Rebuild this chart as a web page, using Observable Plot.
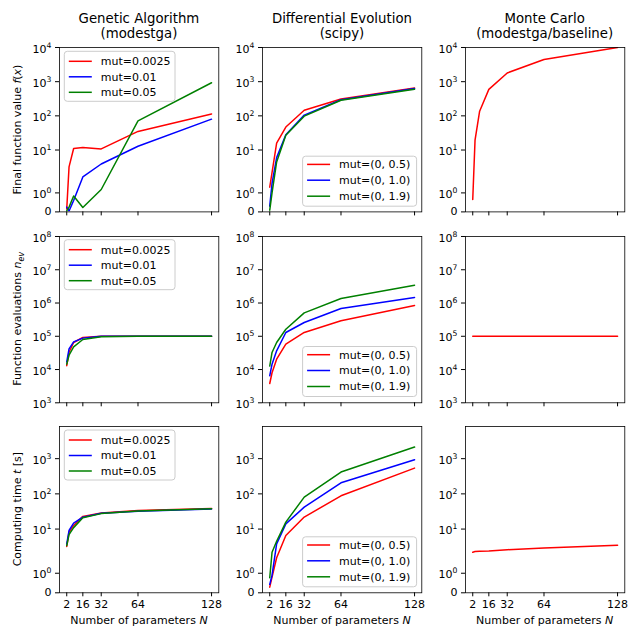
<!DOCTYPE html>
<html>
<head>
<meta charset="utf-8">
<script src="https://cdn.jsdelivr.net/npm/d3@7"></script>
<script src="https://cdn.jsdelivr.net/npm/@observablehq/plot@0.6"></script>
<style>
  body { margin: 0; background: #fff; }
  #fig { position: relative; width: 640px; height: 640px; font-family: "DejaVu Sans", sans-serif; }
  #fig > svg { position: absolute; overflow: visible; }
</style>
</head>
<body>
<div id="fig"></div>
<script>
// Problem sizes (number of parameters N)
const N = [2, 4, 8, 16, 32, 64, 128];
const xTicks = [2, 16, 32, 64, 128];

const colors = ["#ff0000", "#0000ff", "#008000"];
const gaLabels = ["mut=0.0025", "mut=0.01", "mut=0.05"];
const deLabels = ["mut=(0, 0.5)", "mut=(0, 1.0)", "mut=(0, 1.9)"];

const colTitles = [
  ["Genetic Algorithm", "(modestga)"],
  ["Differential Evolution", "(scipy)"],
  ["Monte Carlo", "(modestga/baseline)"]
];

// Final function value f(x)
const gaFx = [
  [0.15, 3.2, 11.1, 11.9, 10.8, 35, 113],
  [0.25, 0.05, 0.6, 1.84, 3.9, 12.9, 80],
  [0.05, 0.25, 0.84, 0.23, 1.18, 71, 930]
];
const deFx = [
  [1.3, 2.2, 16, 47, 146, 313, 650],
  [0.3, 1.5, 6.0, 28, 105, 295, 630],
  [0.09, 1.0, 4.5, 27, 98, 285, 600]
];
const mcFx = [[0.65, 19.5, 137, 594, 1800, 4470, 10000]];

// Function evaluations n_ev
const gaNev = [
  [13000, 33000, 65000, 92000, 100000, 100000, 100000],
  [17000, 42000, 68000, 88000, 100000, 100000, 100000],
  [14500, 27000, 48000, 80000, 97000, 100000, 100000]
];
const deNev = [
  [3800, 8000, 20500, 58000, 130000, 292000, 843000],
  [6500, 14500, 36600, 130000, 260000, 686000, 1470000],
  [12700, 32600, 65000, 163000, 507000, 1370000, 3440000]
];
const mcNev = [[100000, 100000, 100000, 100000, 100000, 100000, 100000]];

// Computing time t [s]
const gaTime = [
  [3.2, 8.2, 12.7, 22.9, 28.5, 33.9, 38.6],
  [3.8, 9.1, 14.8, 21.8, 28, 32, 37],
  [3.4, 7.0, 11, 20.9, 27.5, 32.5, 38]
];
const deTime = [
  [0.29, 0.8, 1.79, 6.6, 21.9, 88, 538],
  [0.43, 0.9, 3.8, 14.1, 42, 206, 934],
  [0.77, 2.2, 4.5, 15.7, 81, 417, 2140]
];
const mcTime = [[2.2, 2.3, 2.35, 2.4, 2.6, 2.9, 3.5]];

// y limits and ticks of each row (shared along the row)
const rowDomains = [[0, 1e4], [1e3, 1e8], [0, 8200]];
const rowTicks = [
  [0, 1, 10, 100, 1e3, 1e4],
  [1e3, 1e4, 1e5, 1e6, 1e7, 1e8],
  [0, 1, 10, 100, 1e3]
];

// Symmetric log transform (linear within ±2, log10 outside)
const LINTHRESH = 2, LINSCALE = 1 / (1 - 1 / 10);
function symlog(v) {
  const a = Math.abs(v);
  return a <= LINTHRESH ? v * LINSCALE
    : Math.sign(v) * LINTHRESH * (LINSCALE + Math.log10(a / LINTHRESH));
}
const SUP = {"0": "⁰", "1": "¹", "2": "²", "3": "³", "4": "⁴", "5": "⁵", "6": "⁶", "7": "⁷", "8": "⁸", "9": "⁹"};
const UNSUP = Object.fromEntries(Object.entries(SUP).map(([k, v]) => [v, k]));
function powerLabel(v) {
  if (v === 0) return "0";
  const e = String(Math.round(Math.log10(v)));
  return "10" + [...e].map(c => SUP[c]).join("");
}

// Layout of the 3x3 grid of axes (pixels)
const colLeft = [59.3, 262.3, 465], colWidth = 159.3;
const rowTop = [47.3, 235.7, 426], rowBottom = [211.7, 402, 592.3];
const ML = 50, MR = 10, MT = 8, MB = 30;
const FONT = "DejaVu Sans";

const panels = [
  [{series: gaFx, legend: gaLabels, loc: "ul"}, {series: deFx, legend: deLabels, loc: "lr"}, {series: mcFx}],
  [{series: gaNev, legend: gaLabels, loc: "ul"}, {series: deNev, legend: deLabels, loc: "lr"}, {series: mcNev}],
  [{series: gaTime, legend: gaLabels, loc: "ul"}, {series: deTime, legend: deLabels, loc: "lr"}, {series: mcTime}]
];

const fig = document.getElementById("fig");

// Typeset "10ⁿ" tick labels as a base with a raised, smaller exponent
function typesetPowers(svg) {
  svg.querySelectorAll('g[aria-label="y-axis tick label"] text').forEach(t => {
    const s = t.textContent;
    if (!s.startsWith("10")) return;
    const exp = [...s.slice(2)].map(c => UNSUP[c] ?? c).join("");
    t.textContent = "";
    const ns = "http://www.w3.org/2000/svg";
    const base = document.createElementNS(ns, "tspan");
    base.setAttribute("dy", "1.5");
    base.textContent = "10";
    const sup = document.createElementNS(ns, "tspan");
    sup.setAttribute("dy", "-5");
    sup.setAttribute("font-size", "7.7");
    sup.textContent = exp;
    t.appendChild(base);
    t.appendChild(sup);
  });
}

panels.forEach((row, r) => {
  const labelOf = new Map(rowTicks[r].map(t => [symlog(t), powerLabel(t)]));
  const h = rowBottom[r] - rowTop[r];
  row.forEach((p, c) => {
    const svg = Plot.plot({
      width: colWidth + ML + MR,
      height: h + MT + MB,
      marginLeft: ML, marginRight: MR, marginTop: MT, marginBottom: MB,
      style: {fontFamily: FONT, fontSize: "11px", color: "#000", background: "none", overflow: "visible"},
      x: {
        type: "linear", domain: [-4.3, 134.3], ticks: xTicks, tickSize: 4, tickPadding: 3,
        tickFormat: r === 2 ? d => String(d) : () => "", label: null
      },
      y: {
        type: "linear", domain: rowDomains[r].map(symlog), ticks: rowTicks[r].map(symlog),
        tickSize: 4, tickPadding: 4, tickFormat: t => labelOf.get(t), label: null
      },
      marks: [
        ...p.series.map((vals, i) => Plot.line(vals, {
          x: (d, j) => N[j], y: d => symlog(d),
          stroke: colors[i], strokeWidth: 1.5, clip: true
        })),
        Plot.frame({stroke: "#000", strokeWidth: 0.8})
      ]
    });
    typesetPowers(svg);
    svg.style.left = (colLeft[c] - ML) + "px";
    svg.style.top = (rowTop[r] - MT) + "px";
    fig.appendChild(svg);
  });
});

// Titles, axis labels and legends
const ov = d3.select(fig).append("svg")
  .attr("width", 640).attr("height", 640)
  .style("left", "0px").style("top", "0px")
  .attr("font-family", FONT).attr("fill", "#000");

colTitles.forEach((lines, c) => {
  const cx = colLeft[c] + colWidth / 2;
  lines.forEach((t, k) => {
    ov.append("text").attr("x", cx).attr("y", 18.3 + 15 * k).attr("dy", "0.35em")
      .attr("text-anchor", "middle").attr("font-size", 13.3).text(t);
  });
  const xl = ov.append("text").attr("x", cx).attr("y", 620).attr("dy", "0.35em")
    .attr("text-anchor", "middle").attr("font-size", 11);
  xl.append("tspan").text("Number of parameters ");
  xl.append("tspan").attr("font-style", "italic").text("N");
});

const yLabels = [
  [["Final function value ", null], ["f", "i"], ["(", null], ["x", "i"], [")", null]],
  [["Function evaluations ", null], ["n", "i"], ["ev", "sub"]],
  [["Computing time ", null], ["t", "i"], [" [s]", null]]
];
yLabels.forEach((parts, r) => {
  const cy = (rowTop[r] + rowBottom[r]) / 2;
  const t = ov.append("text").attr("transform", `translate(17.5,${cy}) rotate(-90)`)
    .attr("dy", "0.35em").attr("text-anchor", "middle").attr("font-size", 11);
  parts.forEach(([s, kind]) => {
    const sp = t.append("tspan").text(s);
    if (kind) sp.attr("font-style", "italic");
    if (kind === "sub") sp.attr("font-size", 8).attr("dy", "3");
  });
});

panels.forEach((row, r) => row.forEach((p, c) => {
  if (!p.legend) return;
  const w = p.loc === "ul" ? 110.7 : 114, bh = 50;
  let bx, by, ys;
  if (p.loc === "ul") {
    bx = colLeft[c] + 5; by = rowTop[r] + 4;
    ys = [14, 29.5, 45].map(d => rowTop[r] + d);
  } else {
    bx = colLeft[c] + colWidth - 5 - w; by = rowBottom[r] - 5.5 - bh;
    ys = [-47.3, -31.5, -15.5].map(d => rowBottom[r] + d);
  }
  const g = ov.append("g");
  g.append("rect").attr("x", bx).attr("y", by).attr("width", w).attr("height", bh)
    .attr("rx", 3).attr("fill", "#fff").attr("fill-opacity", 0.8)
    .attr("stroke", "#cccccc").attr("stroke-width", 1);
  p.legend.forEach((lab, i) => {
    g.append("line").attr("x1", bx + 4.5).attr("x2", bx + 27.5).attr("y1", ys[i]).attr("y2", ys[i])
      .attr("stroke", colors[i]).attr("stroke-width", 1.5);
    g.append("text").attr("x", bx + 36.5).attr("y", ys[i]).attr("dy", "0.35em")
      .attr("font-size", 11).text(lab);
  });
}));
</script>
</body>
</html>
